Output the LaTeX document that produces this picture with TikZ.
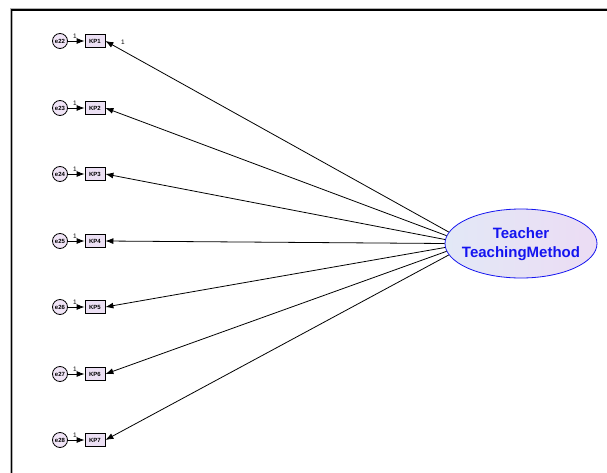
\documentclass[tikz,border=0pt]{standalone}
\usepackage{fontspec}
\setmainfont{Liberation Sans}
\usetikzlibrary{arrows.meta,shapes.geometric}
\definecolor{boxfill}{RGB}{236,224,244}
\definecolor{errfill}{RGB}{240,228,246}
\definecolor{ellleft}{RGB}{226,232,246}
\definecolor{ellright}{RGB}{236,220,244}
\definecolor{lvblue}{RGB}{20,20,240}
\tikzset{
  errnode/.style={circle,draw=black,line width=0.8pt,fill=errfill,minimum size=15pt,inner sep=0pt,font=\fontsize{6}{7}\selectfont\bfseries},
  obsnode/.style={rectangle,draw=black,line width=0.8pt,fill=boxfill,minimum width=20pt,minimum height=13pt,inner sep=0pt,font=\fontsize{6}{7}\selectfont\bfseries},
  latnode/.style={ellipse,draw=lvblue,line width=0.8pt,left color=ellleft,right color=ellright,minimum width=152pt,minimum height=69pt,inner sep=0pt},
  lattext/.style={inner sep=0pt,align=center,text=lvblue,font=\fontsize{15}{19}\selectfont\bfseries},
  arr/.style={-{Latex[length=8pt,width=6pt]},line width=0.8pt},
  lbl/.style={font=\fontsize{6.5}{7}\selectfont,inner sep=0pt}
}
\begin{document}
\begin{tikzpicture}[x=1pt,y=-1pt]
\useasboundingbox (0,0) rectangle (607,473);
\fill[white] (0,0) rectangle (607,473);
% frame
\draw[line width=3pt,gray!60] (11,473) -- (11,9.5) -- (607,9.5);
\draw[line width=1.6pt,black] (11.5,473) -- (11.5,10) -- (607,10);
% latent
\node[latnode] (lat) at (521,243.5) {};
\node[lattext] (latt) at (521,244) {Teacher\\TeachingMethod};
% rows
\foreach \i/\e/\y in {1/22/41,2/23/108,3/24/174,4/25/241,5/26/307,6/27/374,7/28/440}{
  \node[errnode] (e\e) at (60,\y) {e\e};
  \node[obsnode] (kp\i) at (95,\y) {KP\i};
  \draw[arr] (e\e) -- (kp\i);
  \node[lbl] (one\i) at (75,{\y-5}) {1};
  \pgfmathtruncatemacro{\ang}{180-(4-\i)*3}
  \draw[arr] (lat.\ang) -- (kp\i.east);
}
\node[lbl] (w1) at (123,42) {1};
\end{tikzpicture}
\end{document}
